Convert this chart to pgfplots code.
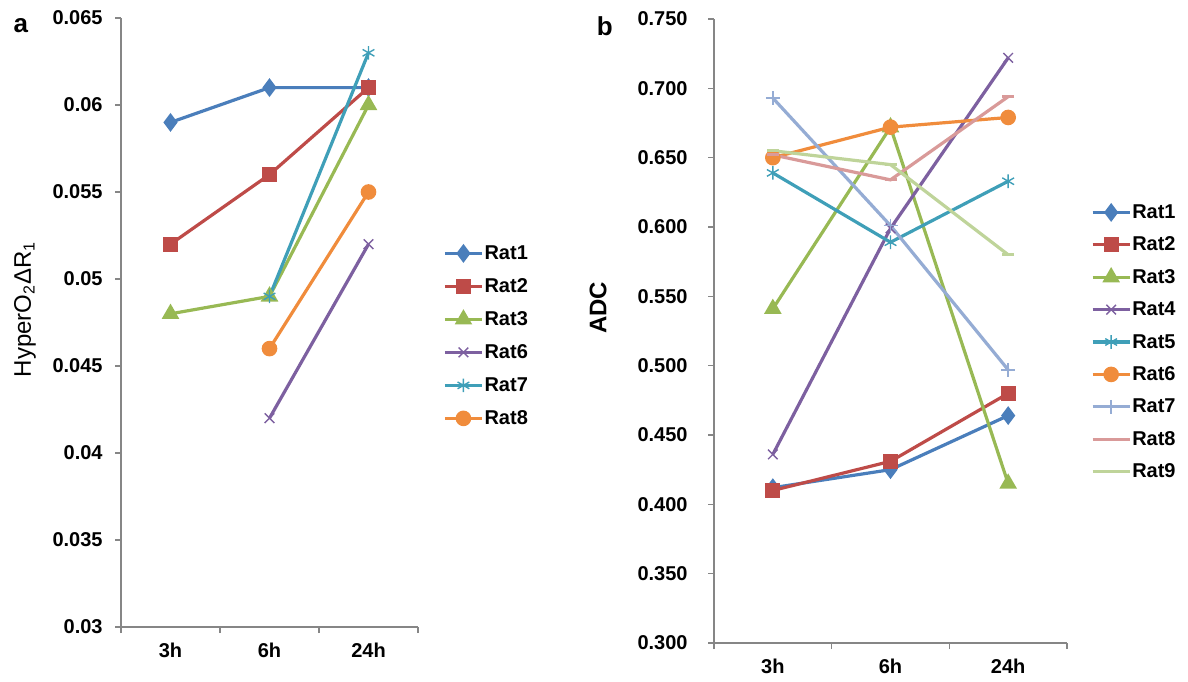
\documentclass[border=0pt]{standalone}
\usepackage{fontspec}
\setmainfont{Liberation Sans}
\usepackage{pgfplots}
\pgfplotsset{compat=1.18}
\usetikzlibrary{plotmarks}

\definecolor{axisgray}{HTML}{868686}
\definecolor{cA}{HTML}{4A7EBB}
\definecolor{cB}{HTML}{BE4B48}
\definecolor{cC}{HTML}{98B954}
\definecolor{cD}{HTML}{7D60A0}
\definecolor{cE}{HTML}{3F9FB8}
\definecolor{cF}{HTML}{F08C3C}
\definecolor{cG}{HTML}{95ACD4}
\definecolor{cH}{HTML}{D99A99}
\definecolor{cI}{HTML}{BFD49A}

\pgfplotsset{
  panel/.style={
    scale only axis,
    clip=false,
    axis x line*=bottom,
    axis y line*=left,
    axis line style={draw=axisgray, line width=0.6pt},
    xmin=0.5, xmax=3.5,
    xtick={0.5,1.5,2.5,3.5},
    xticklabels={,,,},
    extra x ticks={1,2,3},
    extra x tick labels={3h,6h,24h},
    extra x tick style={major tick length=0pt},
    tick align=outside,
    tick style={draw=axisgray, line width=0.6pt},
    major tick length=3pt,
    tick label style={font=\bfseries\fontsize{10}{12}\selectfont},
    xticklabel style={anchor=north, inner sep=0pt, yshift=-8pt},
    yticklabel style={anchor=east, inner sep=0pt},
    ylabel style={anchor=center},
    legend cell align=left,
    legend style={draw=none, fill=none, inner sep=0pt,
      font=\bfseries\fontsize{10}{12}\selectfont,
      nodes={inner xsep=0.5pt, inner ysep=1.5pt, text height=8pt, text depth=2pt},
      row sep=3.5pt},
    legend image code/.code={
      \draw[mark repeat=2, mark phase=2] plot coordinates {(0pt,0pt) (9.25pt,0pt) (18.5pt,0pt)};},
    every axis plot/.append style={line width=1.6pt},
  },
}

\begin{document}
\begin{tikzpicture}
\useasboundingbox (0,0) rectangle (594pt,340.5pt);

% panel a
\begin{axis}[panel,
  at={(60.5pt,27pt)}, anchor=south west,
  width=148.5pt, height=304.5pt,
  ymin=0.03, ymax=0.065,
  ytick={0.03,0.035,0.04,0.045,0.05,0.055,0.06,0.065},
  yticklabels={0.03,0.035,0.04,0.045,0.05,0.055,0.06,0.065},
  yticklabel style={xshift=-6pt},
  ylabel={HyperO\textsubscript{2}ΔR\textsubscript{1}},
  ylabel style={at={(rel axis cs:-0.323,0.522)}, font=\fontsize{12}{14}\selectfont},
  legend style={at={(rel axis cs:1.084,0.6355)}, anchor=north west},
]
\addplot[cA, mark=diamond*, mark size=3.4pt] coordinates {(1,0.059) (2,0.061) (3,0.061)};
\addplot[cB, mark=square*, mark size=2.9pt] coordinates {(1,0.052) (2,0.056) (3,0.061)};
\addplot[cC, mark=triangle*, mark size=3.5pt] coordinates {(1,0.048) (2,0.049) (3,0.060)};
\addplot[cD, mark=x, mark size=3.4pt, mark options={line width=0.7pt}] coordinates {(2,0.042) (3,0.052)};
\addplot[cE, mark=asterisk, mark size=3.4pt, mark options={line width=0.7pt}] coordinates {(2,0.049) (3,0.063)};
\addplot[cF, mark=*, mark size=3.1pt] coordinates {(2,0.046) (3,0.055)};
\legend{Rat1,Rat2,Rat3,Rat6,Rat7,Rat8}
\node[font=\bfseries\fontsize{13}{15}\selectfont] at (rel axis cs:-0.337,0.987) {a};
\end{axis}

% panel b
\begin{axis}[panel,
  at={(357pt,19pt)}, anchor=south west,
  width=176.5pt, height=312pt,
  ymin=0.3, ymax=0.75,
  ytick={0.3,0.35,0.4,0.45,0.5,0.55,0.6,0.65,0.7,0.75},
  yticklabels={0.300,0.350,0.400,0.450,0.500,0.550,0.600,0.650,0.700,0.750},
  yticklabel style={xshift=-10pt},
  ylabel={ADC},
  ylabel style={at={(rel axis cs:-0.3286,0.537)}, font=\bfseries\fontsize{12}{14}\selectfont},
  legend style={at={(rel axis cs:1.067,0.7115)}, anchor=north west, row sep=3.2pt},
]
\addplot[cA, mark=diamond*, mark size=3.4pt] coordinates {(1,0.412) (2,0.425) (3,0.464)};
\addplot[cB, mark=square*, mark size=2.9pt] coordinates {(1,0.410) (2,0.431) (3,0.480)};
\addplot[cC, mark=triangle*, mark size=3.5pt] coordinates {(1,0.541) (2,0.672) (3,0.415)};
\addplot[cD, mark=x, mark size=3.4pt, mark options={line width=0.7pt}] coordinates {(1,0.436) (2,0.599) (3,0.722)};
\addplot[cE, mark=asterisk, mark size=3.4pt, mark options={line width=0.7pt}] coordinates {(1,0.639) (2,0.589) (3,0.633)};
\addplot[cF, mark=*, mark size=3.1pt] coordinates {(1,0.650) (2,0.672) (3,0.679)};
\addplot[cG, mark=+, mark size=3.5pt, mark options={line width=0.7pt}] coordinates {(1,0.693) (2,0.601) (3,0.497)};
\addplot[cH, mark=-, mark size=3pt] coordinates {(1,0.652) (2,0.634) (3,0.694)};
\addplot[cI, mark=-, mark size=3pt] coordinates {(1,0.655) (2,0.645) (3,0.580)};
\legend{Rat1,Rat2,Rat3,Rat4,Rat5,Rat6,Rat7,Rat8,Rat9}
\node[font=\bfseries\fontsize{13}{15}\selectfont] at (rel axis cs:-0.309,0.989) {b};
\end{axis}
\end{tikzpicture}
\end{document}
